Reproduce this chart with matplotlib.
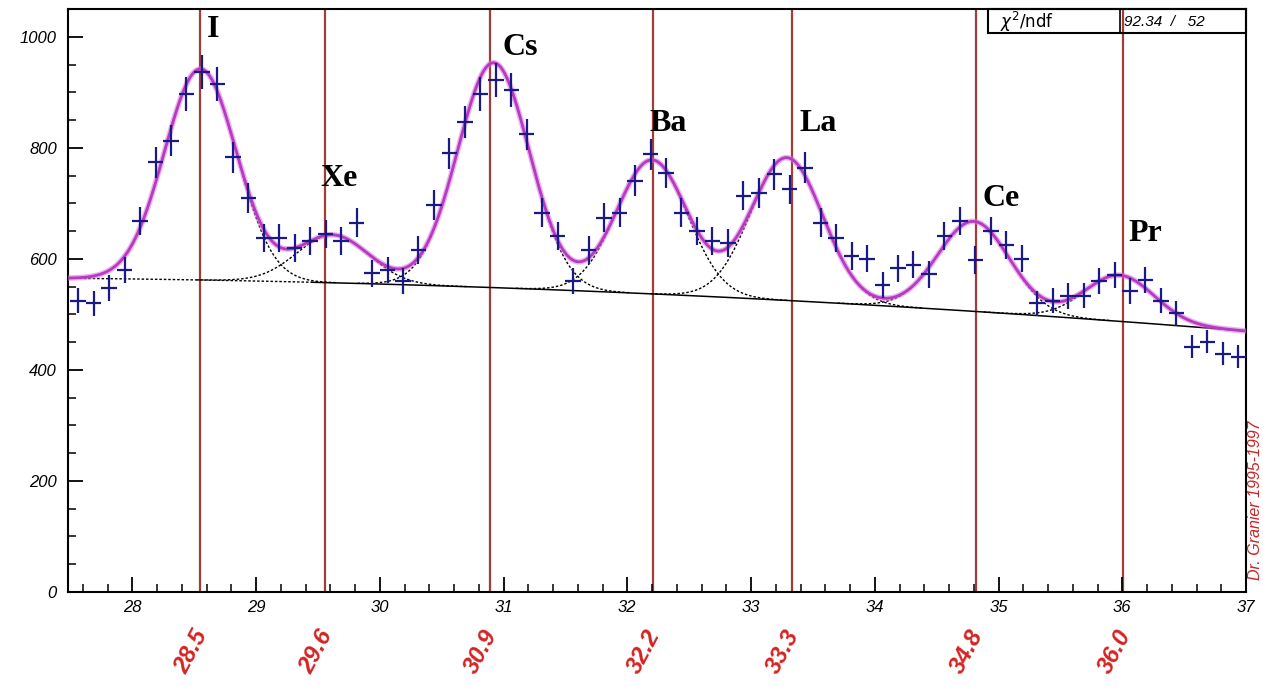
import numpy as np
import matplotlib
matplotlib.use("Agg")
import matplotlib.pyplot as plt
from matplotlib.ticker import MultipleLocator

# ---------------- data ----------------
bin_start = 27.5
bin_width = 0.125
counts = [525, 520, 547, 580, 668, 774, 813, 897, 937, 915,
          783, 710, 638, 638, 620, 632, 645, 632, 665, 574,
          580, 560, 616, 697, 790, 846, 897, 922, 904, 824,
          683, 641, 560, 616, 674, 683, 741, 788, 755, 683,
          650, 632, 629, 714, 719, 752, 725, 764, 665, 638,
          605, 600, 553, 583, 589, 572, 641, 668, 598, 650,
          625, 600, 520, 525, 533, 534, 560, 571, 542, 562,
          525, 502, 442, 451, 429, 424]

# fit parameters
peak_names = ["I", "Xe", "Cs", "Ba", "La", "Ce", "Pr"]
peak_centers = [28.55, 29.62, 30.92, 32.20, 33.29, 34.80, 35.98]
peak_amps = [380, 86, 405, 241, 257, 162, 83]
peak_sigmas = [0.29, 0.29, 0.29, 0.285, 0.29, 0.29, 0.28]
bg_coef = [565.0, -2.03, -0.839]   # bg = a + b*(x-27.5) + c*(x-27.5)^2

# reference lines and their labels
line_pos = [28.55, 29.56, 30.89, 32.21, 33.33, 34.82, 36.01]
line_labels = ["28.5", "29.6", "30.9", "32.2", "33.3", "34.8", "36.0"]

# peak label positions (left, baseline)
label_x = [28.60, 29.52, 30.99, 32.18, 33.39, 34.87, 36.05]
label_y = [1000, 732, 967, 831, 831, 696, 632]

chi2_text = "92.34  /   52"

# ---------------- figure ----------------
W, H = 1263, 687
fig = plt.figure(figsize=(W / 100, H / 100), dpi=100)
x0, x1, y0, y1 = 68, 1246, 9, 592
ax = fig.add_axes([x0 / W, (H - y1) / H, (x1 - x0) / W, (y1 - y0) / H])
ax.set_xlim(27.48, 37.0)
ax.set_ylim(0, 1050)

def bg(x):
    t = x - 27.5
    return bg_coef[0] + bg_coef[1] * t + bg_coef[2] * t * t

def gauss(x, a, m, s):
    return a * np.exp(-0.5 * ((x - m) / s) ** 2)

# vertical reference lines
for xp in line_pos:
    ax.axvline(xp, color="#a23c38", lw=1.6, zorder=1)

# dotted components
dot = (0, (1.8, 1.4))
for a, m, s in zip(peak_amps, peak_centers, peak_sigmas):
    xx = np.linspace(max(27.5, m - 1.1), min(37.0, m + 1.1), 200)
    ax.plot(xx, bg(xx) + gauss(xx, a, m, s), color="black", lw=1.0,
            ls=dot, zorder=2)

# background: dotted at the left, solid further on
xd = np.linspace(27.5, 29.45, 100)
ax.plot(xd, bg(xd), color="black", lw=1.0, ls=dot, zorder=2)
xb = np.linspace(29.45, 37.0, 300)
ax.plot(xb, bg(xb), color="black", lw=1.1, zorder=2)

# data points with errors
cnt = np.array(counts, dtype=float)
xc = bin_start + bin_width * (np.arange(len(cnt)) + 0.5)
ax.errorbar(xc, cnt, xerr=bin_width / 2, yerr=np.sqrt(cnt), fmt="none",
            ecolor="#1a1a86", elinewidth=1.6, capsize=0, zorder=4)

# total fit
xf = np.linspace(27.5, 37.0, 1500)
yf = bg(xf)
for a, m, s in zip(peak_amps, peak_centers, peak_sigmas):
    yf = yf + gauss(xf, a, m, s)
ax.plot(xf, yf, color="#e070e8", lw=4.0, alpha=0.55, zorder=3)
ax.plot(xf, yf, color="#b43cbe", lw=2.0, zorder=3)

# peak labels
for name, lx, ly in zip(peak_names, label_x, label_y):
    ax.text(lx, ly, name, fontsize=23, fontweight="bold",
            family="Liberation Serif", ha="left", va="baseline", zorder=6)

# axes styling
for sp in ax.spines.values():
    sp.set_linewidth(1.5)
ax.xaxis.set_major_locator(MultipleLocator(1))
ax.xaxis.set_minor_locator(MultipleLocator(0.2))
ax.yaxis.set_major_locator(MultipleLocator(200))
ax.yaxis.set_minor_locator(MultipleLocator(50))
ax.tick_params(which="major", direction="in", length=11, width=1.3,
               labelsize=12, top=False, right=False)
ax.tick_params(which="minor", direction="in", length=6, width=1.1,
               top=False, right=False)
ax.tick_params(axis="x", which="major", pad=6)
ax.tick_params(axis="y", which="major", pad=8)
for lab in ax.get_xticklabels() + ax.get_yticklabels():
    lab.set_fontstyle("italic")
    lab.set_family("Liberation Sans")

# red rotated labels below axis
for xp, txt in zip(line_pos, line_labels):
    px = x0 + (xp - 27.48) / (37.0 - 27.48) * (x1 - x0)
    fig.text((px - 9) / W, 1 - 652 / H, txt, color="#d42424", fontsize=17,
             fontweight="bold", fontstyle="italic", family="Liberation Sans",
             rotation=62, ha="center", va="center")

# chi2 box
bx0, bx1, by0, by1, bdiv = 988, 1246, 9, 33, 1120
fig.patches.append(plt.Rectangle((bx0 / W, 1 - by1 / H), (bx1 - bx0) / W,
                                 (by1 - by0) / H, transform=fig.transFigure,
                                 fill=False, lw=1.5, ec="black", zorder=10))
fig.lines.append(plt.Line2D([bdiv / W, bdiv / W], [1 - by1 / H, 1 - by0 / H],
                            transform=fig.transFigure, color="black", lw=1.2))
fig.text(1000 / W, 1 - 22 / H, r"$\chi^2$/ndf", fontsize=12,
         family="DejaVu Sans", ha="left", va="center")
fig.text(1124 / W, 1 - 22 / H, chi2_text, fontsize=11, fontstyle="italic",
         family="Liberation Sans", ha="left", va="center")

# watermark
fig.text(1255 / W, 1 - 500 / H, "Dr. Granier 1995-1997", color="#cc2222",
         fontsize=11.5, fontstyle="italic", family="Liberation Sans",
         rotation=90, ha="center", va="center")

fig.savefig("out.png", dpi=100)
